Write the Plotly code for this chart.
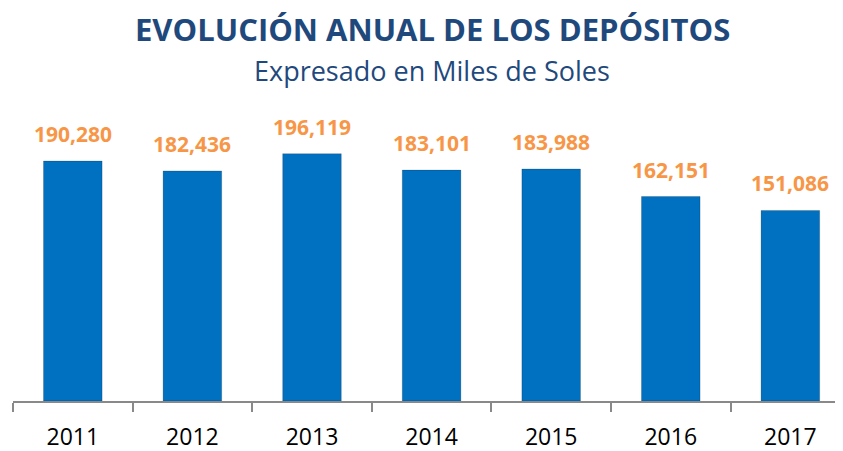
import plotly.graph_objects as go

years = ["2011", "2012", "2013", "2014", "2015", "2016", "2017"]
depositos = [190280, 182436, 196119, 183101, 183988, 162151, 151086]
labels = ["190,280", "182,436", "196,119", "183,101", "183,988", "162,151", "151,086"]

title_text = "EVOLUCIÓN ANUAL DE LOS DEPÓSITOS"
subtitle_text = "Expresado en Miles de Soles"

FONT = "Open Sans"
OFF = 8  # page body margin offset
PLOT_TOP = 100 - OFF
PLOT_BOTTOM = 401 - OFF
H = 451

fig = go.Figure()
fig.add_trace(go.Bar(
    x=years, y=depositos, width=0.49,
    marker=dict(color="#0070C0", line=dict(color="rgba(0,0,0,0.18)", width=1)),
    hoverinfo="skip",
))

for i, (v, lab) in enumerate(zip(depositos, labels)):
    fig.add_annotation(x=i, y=v, text=f"<b>{lab}</b>", showarrow=False,
                       yanchor="bottom", yshift=11,
                       font=dict(family=FONT, size=21, color="#F79646"))

plot_h = PLOT_BOTTOM - PLOT_TOP
def paper_y(px):
    return (PLOT_BOTTOM - px) / plot_h

fig.add_annotation(x=0.5, y=paper_y(29 - OFF), xref="paper", yref="paper",
                   xanchor="center", yanchor="middle", borderpad=0,
                   text=f"<b>{title_text}</b>", showarrow=False,
                   font=dict(family=FONT, size=31, color="#1F497D"))
fig.add_annotation(x=0.5, y=paper_y(71 - OFF), xref="paper", yref="paper",
                   xanchor="center", yanchor="middle", borderpad=0,
                   text=subtitle_text, showarrow=False,
                   font=dict(family=FONT, size=27, color="#1F497D"))

fig.update_layout(
    width=843, height=H,
    margin=dict(l=13 - OFF, r=0, t=PLOT_TOP, b=H - PLOT_BOTTOM, autoexpand=False),
    paper_bgcolor="white", plot_bgcolor="white",
    showlegend=False,
    font=dict(family=FONT),
    xaxis=dict(
        type="category", range=[-0.5, 6.507], automargin=False,
        showline=True, linecolor="#898989", linewidth=2,
        ticks="outside", tickson="boundaries", ticklen=9, tickcolor="#898989", tickwidth=2,
        tickfont=dict(family=FONT, size=23, color="#000000"),
        ticklabelstandoff=14,
        showgrid=False, zeroline=False,
    ),
    yaxis=dict(range=[0, 238700], visible=False, showgrid=False, zeroline=False,
               automargin=False),
)

fig.write_html("out.html")
